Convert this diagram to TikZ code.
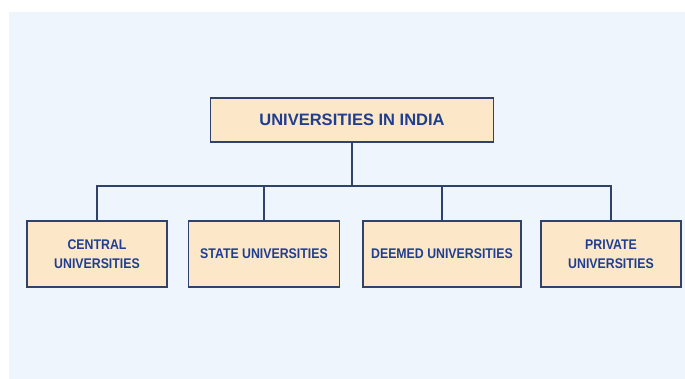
\documentclass[tikz,border=0pt]{standalone}
\usepackage{fontspec}
\setmainfont{Liberation Sans}
\newfontfamily\narrowsans[FakeStretch=0.88]{Liberation Sans}
\usepackage{tikz}
\definecolor{bgblue}{RGB}{238,245,253}
\definecolor{peach}{RGB}{252,232,200}
\definecolor{edgenavy}{RGB}{48,66,108}
\definecolor{textnavy}{RGB}{32,62,145}
\begin{document}
\begin{tikzpicture}[x=1pt,y=-1pt,
    unibox/.style={draw=edgenavy,line width=1.4pt,fill=peach,text=textnavy,
        font=\narrowsans\bfseries\fontsize{14}{19}\selectfont,align=center,
        minimum height=66pt,inner sep=0pt},
    link/.style={draw=edgenavy,line width=1.4pt}]
    \useasboundingbox (0,0) rectangle (685,379);
    \fill[bgblue] (9,12) rectangle (685,379);
    \node[unibox,minimum width=283pt,minimum height=44pt,
        font=\bfseries\fontsize{16.5}{19}\selectfont] (india) at (352,120) {UNIVERSITIES IN INDIA};
    \node[unibox,minimum width=140pt] (central) at (97,254)  {CENTRAL\\UNIVERSITIES};
    \node[unibox,minimum width=151pt] (state)   at (264,254) {STATE UNIVERSITIES};
    \node[unibox,minimum width=158pt] (deemed)  at (442,254) {DEEMED UNIVERSITIES};
    \node[unibox,minimum width=140pt] (private) at (611,254) {PRIVATE\\UNIVERSITIES};
    \coordinate (bus) at (352,186);
    \draw[link] (india.south) -- (bus);
    \draw[link] (central.north) |- (bus) -| (private.north);
    \draw[link] (state.north)  -- (state.north |- bus);
    \draw[link] (deemed.north) -- (deemed.north |- bus);
\end{tikzpicture}
\end{document}
